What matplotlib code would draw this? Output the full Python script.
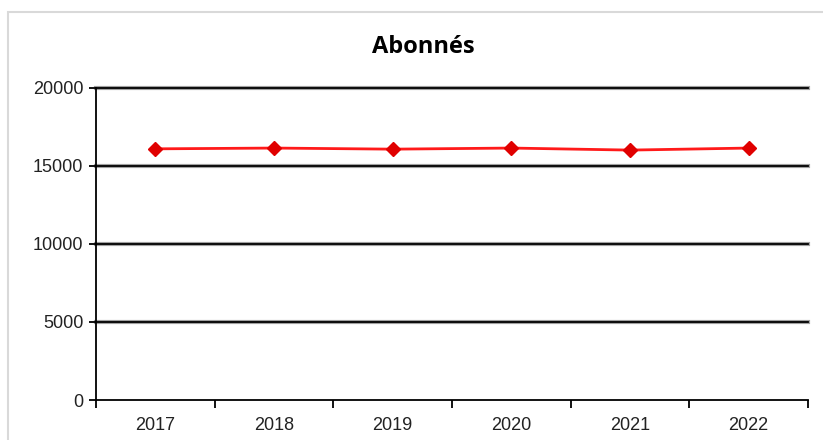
import matplotlib.pyplot as plt
from matplotlib.patches import Rectangle

years = ['2017', '2018', '2019', '2020', '2021', '2022']
abonnes = [16100, 16150, 16080, 16150, 16020, 16150]
yticks = [0, 5000, 10000, 15000, 20000]

plt.rcParams['font.family'] = ['Liberation Sans Narrow', 'Liberation Sans', 'DejaVu Sans']

fig = plt.figure(figsize=(8.23, 4.40), dpi=100)
ax = fig.add_axes([96/823, 1 - 400/440, 712/823, 312/440])

# light frame around the chart area
fig.patches.append(Rectangle((8/823, -0.01), 1.0, 1 - 12/440 + 0.01, transform=fig.transFigure,
                             fill=False, edgecolor='#d9d9d9', linewidth=1.5))

x = list(range(len(years)))
for v in yticks[1:]:
    ax.axhline(v, color='#a0a0a0', linewidth=3.0, zorder=1, clip_on=False)
    ax.axhline(v, color='black', linewidth=1.3, zorder=2, clip_on=False)

ax.plot(x, abonnes, color='#ff1a1a', linewidth=2.0, marker='D', markersize=7,
        markerfacecolor='#e00000', markeredgecolor='#e00000', zorder=3)

ax.set_xlim(-0.5, len(years) - 0.5)
ax.set_ylim(0, 20000)
ax.set_yticks(yticks)
ax.set_yticklabels([str(v) for v in yticks], fontsize=13, color='#222222')
ax.set_xticks([i - 0.5 for i in range(len(years) + 1)])
ax.set_xticklabels([])
ax.set_xticks(x, minor=True)
ax.set_xticklabels(years, minor=True, fontsize=13, color='#222222')
ax.tick_params(axis='x', which='major', direction='out', length=6, width=1.3, color='black')
ax.tick_params(axis='x', which='minor', length=0, pad=12)
ax.tick_params(axis='y', direction='out', length=5, width=1.3, color='black', pad=4)

for s in ['top', 'right']:
    ax.spines[s].set_visible(False)
ax.spines['left'].set_linewidth(1.3)
ax.spines['bottom'].set_linewidth(1.3)

fig.text(423/823, 1 - 47/440, 'Abonnés', ha='center', va='center', fontsize=17,
         fontweight='bold', family=['Open Sans', 'DejaVu Sans'])

plt.savefig('out.png', dpi=100)
